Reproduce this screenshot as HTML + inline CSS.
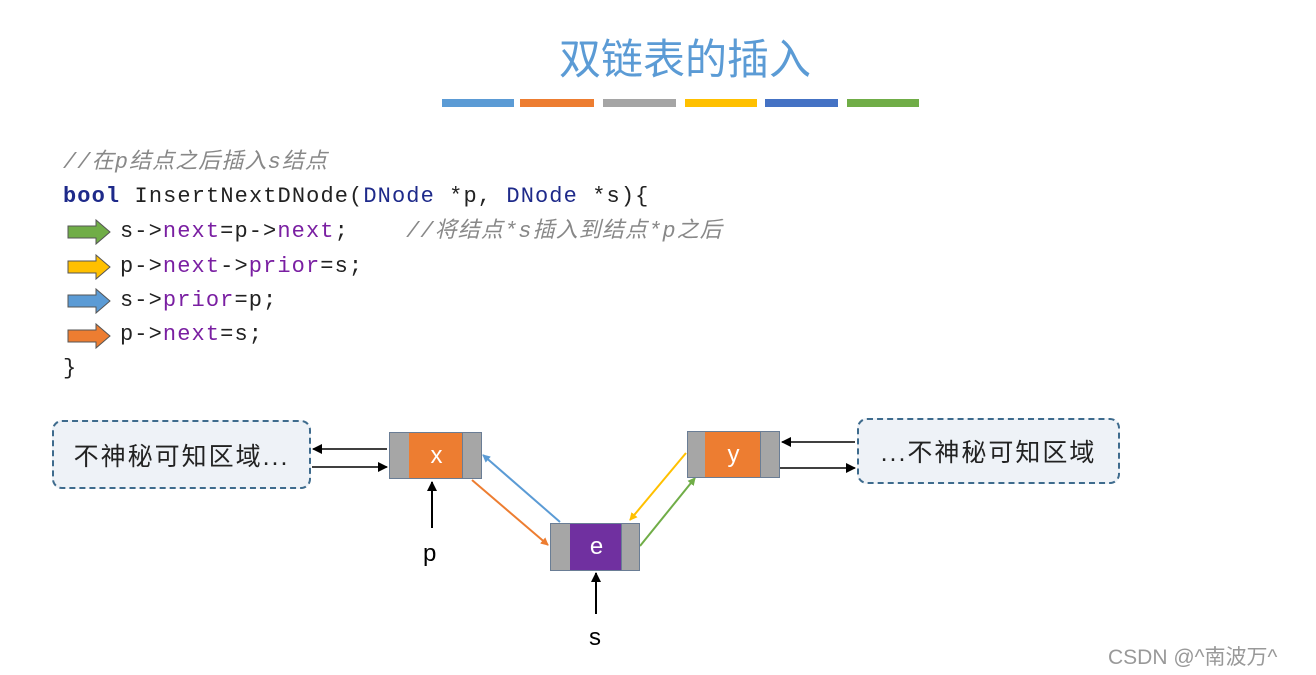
<!DOCTYPE html>
<html><head><meta charset="utf-8"><style>
body{margin:0;width:1316px;height:675px;background:#fff;position:relative;overflow:hidden;font-family:"Liberation Sans","Noto Sans CJK SC",sans-serif}
.a{position:absolute}
.code{position:absolute;font-family:"Liberation Mono","Noto Sans CJK SC",monospace;font-size:22px;letter-spacing:1.1px;color:#222;white-space:pre;line-height:26px}
.kw{color:#7a1fa2}.ty{color:#1e2a8a}.cm{color:#888;font-style:italic}
.g{position:absolute;background:#a6a6a6;border:1px solid #6a7d95;box-sizing:border-box}
.box{position:absolute;border:2px dashed #3e6b8d;border-radius:10px;background:#eef2f7;box-sizing:border-box;font-size:25px;letter-spacing:2px;color:#222;display:flex;align-items:center;justify-content:center}
</style></head><body>
<div class="a" style="left:0;width:1316px;top:30px;text-align:center;padding-left:54px;box-sizing:border-box;font-size:42px;color:#5b9bd5;font-family:'Noto Sans CJK SC',sans-serif;line-height:54px">双链表的插入</div>
<div class="a" style="top:99px;left:442px;width:72px;height:8px;background:#5b9bd5"></div>
<div class="a" style="top:99px;left:520px;width:74px;height:8px;background:#ed7d31"></div>
<div class="a" style="top:99px;left:603px;width:73px;height:8px;background:#a5a5a5"></div>
<div class="a" style="top:99px;left:685px;width:72px;height:8px;background:#ffc000"></div>
<div class="a" style="top:99px;left:765px;width:73px;height:8px;background:#4472c4"></div>
<div class="a" style="top:99px;left:847px;width:72px;height:8px;background:#70ad47"></div>

<div class="code cm" style="left:63px;top:150px">//在p结点之后插入s结点</div>
<div class="code" style="left:63px;top:184px"><b class="ty">bool</b> InsertNextDNode(<span class="ty">DNode</span> *p, <span class="ty">DNode</span> *s){</div>
<div class="code" style="left:120px;top:219px">s-&gt;<span class="kw">next</span>=p-&gt;<span class="kw">next</span>;    <span class="cm">//将结点*s插入到结点*p之后</span></div>
<div class="code" style="left:120px;top:254px">p-&gt;<span class="kw">next</span>-&gt;<span class="kw">prior</span>=s;</div>
<div class="code" style="left:120px;top:288px">s-&gt;<span class="kw">prior</span>=p;</div>
<div class="code" style="left:120px;top:322px">p-&gt;<span class="kw">next</span>=s;</div>
<div class="code" style="left:63px;top:356px">}</div>

<svg class="a" style="left:0;top:0" width="1316" height="675">
<defs>
<marker id="k" markerWidth="10" markerHeight="10" refX="9" refY="5" orient="auto" markerUnits="userSpaceOnUse"><path d="M0,0L10,5L0,10z" fill="#000"/></marker>
<marker id="mb" markerWidth="8" markerHeight="8" refX="7" refY="4" orient="auto" markerUnits="userSpaceOnUse"><path d="M0,0L8,4L0,8z" fill="#5b9bd5"/></marker>
<marker id="mo" markerWidth="8" markerHeight="8" refX="7" refY="4" orient="auto" markerUnits="userSpaceOnUse"><path d="M0,0L8,4L0,8z" fill="#ed7d31"/></marker>
<marker id="my" markerWidth="8" markerHeight="8" refX="7" refY="4" orient="auto" markerUnits="userSpaceOnUse"><path d="M0,0L8,4L0,8z" fill="#ffc000"/></marker>
<marker id="mg" markerWidth="8" markerHeight="8" refX="7" refY="4" orient="auto" markerUnits="userSpaceOnUse"><path d="M0,0L8,4L0,8z" fill="#70ad47"/></marker>
</defs>
<g stroke="#555" stroke-width="1">
<path d="M68,226h28v-6l14,12l-14,12v-6h-28z" fill="#70ad47"/>
<path d="M68,261h28v-6l14,12l-14,12v-6h-28z" fill="#ffc000"/>
<path d="M68,295h28v-6l14,12l-14,12v-6h-28z" fill="#5b9bd5"/>
<path d="M68,330h28v-6l14,12l-14,12v-6h-28z" fill="#ed7d31"/>
</g>
<g stroke="#000" stroke-width="1.5">
<line x1="387" y1="449" x2="313" y2="449" marker-end="url(#k)"/>
<line x1="312" y1="467" x2="387" y2="467" marker-end="url(#k)"/>
<line x1="855" y1="442" x2="782" y2="442" marker-end="url(#k)"/>
<line x1="780" y1="468" x2="855" y2="468" marker-end="url(#k)"/>
<line x1="432" y1="528" x2="432" y2="482" stroke-width="2" marker-end="url(#k)"/>
<line x1="596" y1="614" x2="596" y2="573" stroke-width="2" marker-end="url(#k)"/>
</g>
<g stroke-width="2" fill="none">
<line x1="560" y1="522" x2="483" y2="455" stroke="#5b9bd5" marker-end="url(#mb)"/>
<line x1="472" y1="480" x2="548" y2="545" stroke="#ed7d31" marker-end="url(#mo)"/>
<line x1="686" y1="453" x2="630" y2="520" stroke="#ffc000" marker-end="url(#my)"/>
<line x1="640" y1="546" x2="695" y2="478" stroke="#70ad47" marker-end="url(#mg)"/>
</g>
</svg>

<div class="g" style="left:389px;top:432px;width:22px;height:47px"></div>
<div class="a" style="left:409px;top:432px;width:55px;height:47px;background:#ed7d31;color:#fff;font-size:24px;display:flex;align-items:center;justify-content:center;border-top:1px solid #6a7d95;border-bottom:1px solid #6a7d95;box-sizing:border-box">x</div>
<div class="g" style="left:462px;top:432px;width:20px;height:47px"></div>

<div class="g" style="left:687px;top:431px;width:20px;height:47px"></div>
<div class="a" style="left:705px;top:431px;width:57px;height:47px;background:#ed7d31;color:#fff;font-size:24px;display:flex;align-items:center;justify-content:center;border-top:1px solid #6a7d95;border-bottom:1px solid #6a7d95;box-sizing:border-box">y</div>
<div class="g" style="left:760px;top:431px;width:20px;height:47px"></div>

<div class="g" style="left:550px;top:523px;width:22px;height:48px"></div>
<div class="a" style="left:570px;top:523px;width:53px;height:48px;background:#7030a0;color:#fff;font-size:24px;display:flex;align-items:center;justify-content:center;border-top:1px solid #6a7d95;border-bottom:1px solid #6a7d95;box-sizing:border-box">e</div>
<div class="g" style="left:621px;top:523px;width:19px;height:48px"></div>

<div class="box" style="left:52px;top:420px;width:259px;height:69px">不神秘可知区域...</div>
<div class="box" style="left:857px;top:418px;width:263px;height:66px">...不神秘可知区域</div>

<div class="a" style="left:423px;top:540px;font-size:24px">p</div>
<div class="a" style="left:589px;top:624px;font-size:24px">s</div>
<div class="a" style="left:1108px;top:641px;font-size:21px;color:#999">CSDN @^南波万^</div>
</body></html>
